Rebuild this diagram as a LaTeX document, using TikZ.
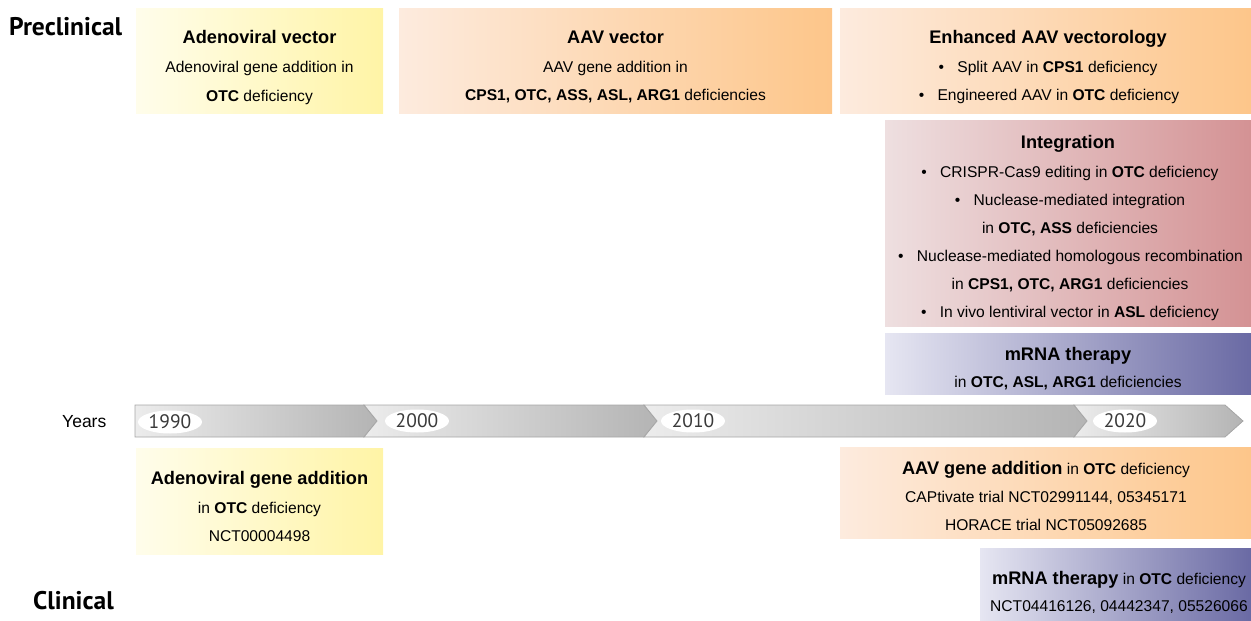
\documentclass[tikz,border=0pt]{standalone}
\usepackage{fontspec}
\usetikzlibrary{shapes.geometric}
\setmainfont{Liberation Sans}
\newfontfamily\hfont{PT Sans}
\definecolor{yelL}{HTML}{FFFDEB}
\definecolor{yelR}{HTML}{FFF4A6}
\definecolor{orL}{HTML}{FDEBDE}
\definecolor{orR}{HTML}{FDC68A}
\definecolor{inL}{HTML}{EEDFE0}
\definecolor{inM}{HTML}{FBC4C6}
\definecolor{inR}{HTML}{D49294}
\definecolor{puL}{HTML}{E6E6F2}
\definecolor{puR}{HTML}{6A6AA4}
\definecolor{tlL}{HTML}{ECECEC}
\definecolor{tlR}{HTML}{B4B4B4}
\definecolor{tlB}{HTML}{A6A6A6}
\definecolor{yrT}{HTML}{3A3A3A}
\newcommand{\bul}{\textbullet\hspace{0.85em}}
\begin{document}
\begin{tikzpicture}[x=1pt,y=-1pt,
  box/.style={draw=none, inner sep=0pt, outer sep=0pt},
  yel/.style={left color=yelL, right color=yelR},
  ora/.style={left color=orL, right color=orR},
  pur/.style={left color=puL, right color=puR},
  intg/.style={left color=inL, middle color=inM, right color=inR},
  body/.style={anchor=base, inner sep=0pt, font=\fontsize{15.6}{18}\selectfont},
  head/.style={anchor=base, inner sep=0pt, font=\fontsize{18.2}{21}\selectfont\bfseries},
  side/.style={anchor=base, inner sep=0pt, font=\hfont\fontsize{25.5}{28}\selectfont\bfseries},
  seg/.style={left color=tlL, right color=tlR, draw=tlB, line width=0.8pt, line join=miter},
  yr/.style={ellipse, fill=white, inner sep=0pt, minimum width=64pt, minimum height=23pt, text=yrT, font=\hfont\fontsize{19.5}{21}\selectfont}
]
\useasboundingbox (0,0) rectangle (1251,621);

% side labels
\node[side, anchor=base west] (pre) at (9,35) {Preclinical};
\node[side, anchor=base west] (cli) at (33,609) {Clinical};
\node[body, anchor=base west, font=\fontsize{17.5}{20}\selectfont] (years) at (62,427) {Years};

% ---------- preclinical boxes ----------
\path[yel] (136,8) rectangle (383,113);
\node[box] (pAdBox) at (259.5,60.5) {};
\node[head] (pAd1) at (259.5,43) {Adenoviral vector};
\node[body] (pAd2) at (259.5,72.5) {Adenoviral gene addition in};
\node[body] (pAd3) at (259.5,101) {\textbf{OTC} deficiency};

\path[ora] (399,8) rectangle (832,113);
\node[box] (pAAVBox) at (615.5,60.5) {};
\node[head] (pAAV1) at (615.5,43) {AAV vector};
\node[body] (pAAV2) at (615.5,72.5) {AAV gene addition in};
\node[body] (pAAV3) at (615.5,100.5) {\textbf{CPS1, OTC, ASS, ASL, ARG1} deficiencies};

\path[ora] (840,8) rectangle (1251,113);
\node[box] (pEnBox) at (1045.5,60.5) {};
\node[head] (pEn1) at (1048,43) {Enhanced AAV vectorology};
\node[body] (pEn2) at (1048,72.5) {\bul Split AAV in \textbf{CPS1} deficiency};
\node[body] (pEn3) at (1049,100.5) {\bul Engineered AAV in \textbf{OTC} deficiency};

\path[intg] (885,120) rectangle (1251,326);
\node[box] (pInBox) at (1068,223) {};
\node[head] (pIn1) at (1068,148) {Integration};
\node[body] (pIn2) at (1070,177.5) {\bul CRISPR-Cas9 editing in \textbf{OTC} deficiency};
\node[body] (pIn3) at (1070,205.5) {\bul Nuclease-mediated integration};
\node[body] (pIn4) at (1070,233.5) {in \textbf{OTC, ASS} deficiencies};
\node[body] (pIn5) at (1070.5,261.5) {\bul Nuclease-mediated homologous recombination};
\node[body] (pIn6) at (1070,289.5) {in \textbf{CPS1, OTC, ARG1} deficiencies};
\node[body] (pIn7) at (1070,317.5) {\bul In vivo lentiviral vector in \textbf{ASL} deficiency};

\path[pur] (885,333) rectangle (1251,394);
\node[box] (pMBox) at (1068,363.5) {};
\node[head] (pM1) at (1068,360) {mRNA therapy};
\node[body] (pM2) at (1068,387.5) {in \textbf{OTC, ASL, ARG1} deficiencies};

% ---------- timeline ----------
\draw[seg] (135,405) -- (364,405) -- (377,421) -- (364,437) -- (135,437) -- cycle;
\draw[seg] (364,405) -- (644,405) -- (657,421) -- (644,437) -- (364,437) -- (377,421) -- cycle;
\draw[seg] (644,405) -- (1074,405) -- (1087,421) -- (1074,437) -- (644,437) -- (657,421) -- cycle;
\draw[seg] (1074,405) -- (1225,405) -- (1243,421) -- (1225,437) -- (1074,437) -- (1087,421) -- cycle;
\node[yr] (y1990) at (170,422) {1990};
\node[yr] (y2000) at (417,421) {2000};
\node[yr] (y2010) at (693,421) {2010};
\node[yr] (y2020) at (1125,421) {2020};

% ---------- clinical boxes ----------
\path[yel] (136,448) rectangle (383,554);
\node[box] (cAdBox) at (259.5,501) {};
\node[head] (cAd1) at (259.5,484) {Adenoviral gene addition};
\node[body] (cAd2) at (259.5,513.5) {in \textbf{OTC} deficiency};
\node[body] (cAd3) at (259.5,541.5) {NCT00004498};

\path[ora] (840,447) rectangle (1251,538);
\node[box] (cAAVBox) at (1045.5,492.5) {};
\node[body] (cAAV1) at (1046,474) {{\fontsize{18.2}{21}\selectfont\bfseries AAV gene addition} in \textbf{OTC} deficiency};
\node[body] (cAAV2) at (1046,502.5) {CAPtivate trial NCT02991144, 05345171};
\node[body] (cAAV3) at (1046,530.5) {HORACE trial NCT05092685};

\path[pur] (980,548) rectangle (1251,621);
\node[box] (cMBox) at (1115.5,584.5) {};
\node[body] (cM1) at (1119,584) {{\fontsize{18.2}{21}\selectfont\bfseries mRNA therapy} in \textbf{OTC} deficiency};
\node[body] (cM2) at (1119,611.5) {NCT04416126, 04442347, 05526066};
\end{tikzpicture}
\end{document}
